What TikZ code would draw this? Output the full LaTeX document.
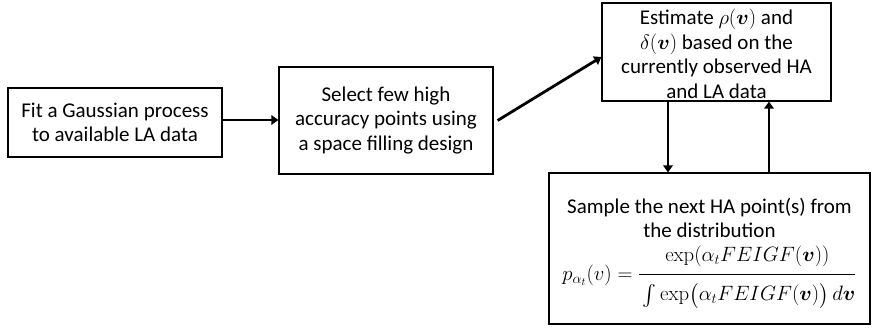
\documentclass[tikz,border=0pt]{standalone}
\usepackage{amsmath}
\usepackage{bm}
\usepackage[no-math]{fontspec}
\setmainfont{Carlito}
\usetikzlibrary{arrows.meta,calc}

\tikzset{
  stepbox/.style={draw=black, line width=1.2pt, align=center, inner sep=0pt,
    font=\fontsize{21}{24.5}\selectfont},
  steptext/.style={align=center, inner sep=0pt, font=\fontsize{21}{24.5}\selectfont},
  flow/.style={line width=2.8pt, -{Triangle[length=7pt,width=9.5pt]}}
}

\begin{document}
\begin{tikzpicture}[x=1pt, y=-1pt]
  \useasboundingbox (0,0) rectangle (875,329);

  % process steps
  \node[stepbox, minimum width=214pt, minimum height=69pt] (fit) at (115,122.5)
    {Fit a Gaussian process\\to available LA data};
  \node[stepbox, minimum width=214pt, minimum height=107pt] (sel) at (386,120.5)
    {Select few high\\accuracy points using\\a space filling design};
  \node[stepbox, minimum width=229pt, minimum height=98pt] (est) at (716.5,52)
    {};
  \node[steptext] (esttxt) at (716.5,54)
    {Estimate $\rho(\bm{v})$ and\\$\delta(\bm{v})$ based on the\\currently observed HA\\and LA data};
  \node[stepbox, minimum width=321pt, minimum height=151pt] (samp) at (709.5,248.5)
    {};
  \node[steptext] (samptxt) at (709.5,253)
    {Sample the next HA point(s) from\\the distribution\\[7pt]
     $p_{\alpha_t}(v)=\dfrac{\exp(\alpha_t FEIGF(\bm{v}))\rule[-0.5em]{0pt}{0pt}}
       {\rule{0pt}{1.1em}\int\exp\bigl(\alpha_t FEIGF(\bm{v})\bigr)\,d\bm{v}}$};

  % connectors
  \draw[flow] ([yshift=2.5pt]fit.east) -- ([yshift=2.5pt]fit.east -| sel.west);
  \draw[flow] ([xshift=4pt]sel.east) -- ([yshift=-5pt]est.west);
  \draw[flow] ([xshift=-48.5pt]est.south) -- ([xshift=-48.5pt]est.south |- samp.north);
  \draw[flow] ([xshift=52.5pt]est.south |- samp.north) -- ([xshift=52.5pt]est.south);
\end{tikzpicture}
\end{document}
